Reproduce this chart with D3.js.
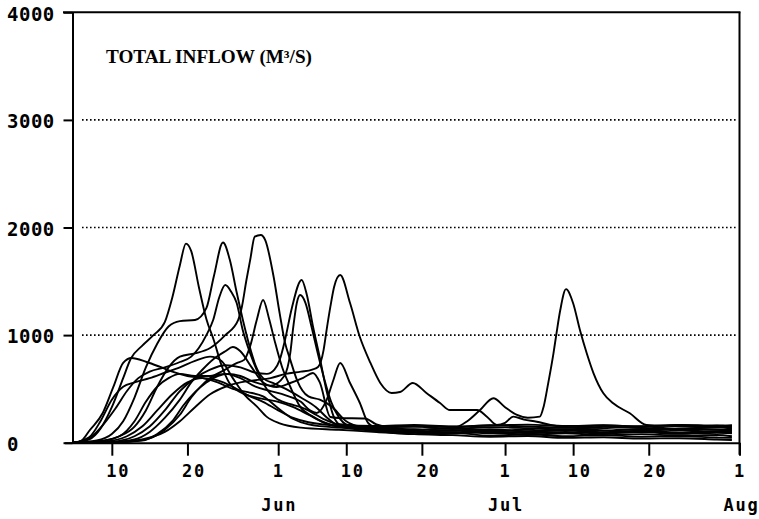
<!DOCTYPE html>
<html>
<head>
<meta charset="utf-8">
<script src="https://cdn.jsdelivr.net/npm/d3@7/dist/d3.min.js"></script>
<style>
  html, body { margin: 0; padding: 0; background: #fff; }
  svg { display: block; }
</style>
</head>
<body>
<script>
// ---- Data (day numbers counted from May 1 = day 1; values in m3/s) ----
const yTicks = [0, 1000, 2000, 3000, 4000];
const yTickLabels = ["0", "1000", "2000", "3000", "4000"];
const gridValues = [1000, 2000, 3000];
const xTickDays = [10, 20, 32, 41, 51, 62, 71, 81, 93];
const xTickLabels = ["10", "20", "1", "10", "20", "1", "10", "20", "1"];
const monthDays = [32, 62, 93];
const monthLabels = ["Jun", "Jul", "Aug"];
const chartTitle = "TOTAL INFLOW (M³/S)";

const series1 = [[5,0],[7,30],[8.5,130],[10,330],[11.5,600],[12.5,780],[14,900],[15.5,1000],[17,1120],[18,1350],[19,1650],[19.8,1850],[20.5,1780],[21.5,1450],[22.5,1150],[23.5,950],[24.5,720],[25.5,560],[27,470],[28.5,430],[30.5,400],[32,380],[34,330],[36,260],[38,190],[40,150],[45,128],[50,118],[55,135],[60,110],[65,125],[70,140],[75,115],[80,105],[85,130],[90,120],[92,112]];
const series2 = [[5,0],[8,20],[10,80],[11.5,200],[13,420],[14.5,700],[16,920],[17.5,1080],[19,1130],[21,1140],[22.5,1250],[23.5,1550],[24.7,1860],[25.6,1700],[26.5,1400],[27.3,1150],[28.2,900],[29,720],[30,600],[31.5,550],[33,500],[35,420],[37,330],[38.5,230],[40,160],[45,140],[50,150],[55,128],[60,145],[65,135],[70,120],[75,148],[80,138],[85,125],[90,150],[92,140]];
const series3 = [[5,0],[9,20],[11,60],[13,150],[14.5,300],[16,520],[17.5,700],[19,800],[21,830],[23,880],[25,1000],[26.7,1140],[27.2,1264],[27.8,1512],[28.3,1700],[28.9,1915],[29.7,1930],[30.3,1880],[31.4,1540],[32.2,1200],[32.9,930],[33.6,770],[34.5,580],[36,430],[37.5,400],[39,340],[41,200],[43,140],[45,108],[50,95],[55,112],[60,88],[65,100],[70,115],[75,92],[80,105],[85,85],[90,98],[92,90]];
const series4 = [[5,0],[10,10],[13,60],[15,150],[17,300],[19,480],[21,600],[23,680],[25,720],[27,700],[29,650],[30.5,640],[31.5,680],[32.2,770],[32.9,955],[33.8,1250],[35.1,1512],[35.8,1370],[36.6,1080],[37.5,790],[38.4,480],[39.3,250],[40.2,170],[45,150],[50,158],[55,145],[60,162],[65,150],[70,140],[75,160],[80,152],[85,165],[90,150],[92,158]];
const series5 = [[5,0],[10,0],[14,30],[17,100],[19,200],[21,330],[23,450],[25,520],[27,560],[29,580],[31,600],[33,640],[35,660],[36.5,680],[37.3,706],[38,860],[38.4,1047],[38.9,1264],[39.4,1450],[40.2,1558],[41.5,1298],[42.8,982],[44.2,741],[45.5,555],[47,462],[48.1,471],[49.8,555],[51.6,462],[53.4,369],[54.7,304],[58.3,304],[59.6,242],[60.9,165],[62,185],[63.1,242],[64.5,215],[66.2,195],[68,165],[70,145],[75,135],[80,150],[85,130],[90,142],[92,128]];
const series6 = [[5,0],[7,40],[9,180],[10.5,320],[12,480],[13.5,600],[15,660],[17,700],[19,750],[20.5,800],[21.5,880],[22.5,1000],[23.4,1140],[24.2,1350],[25,1465],[25.8,1400],[26.5,1300],[27.3,1050],[28.3,830],[29.6,610],[30.9,460],[32,400],[33.5,360],[35,330],[36.5,280],[38,220],[40,170],[45,155],[50,165],[55,150],[60,160],[65,168],[70,155],[75,162],[80,150],[85,165],[90,158],[92,162]];
const series7 = [[5,0],[8,10],[11,60],[13,200],[14.5,380],[16,520],[17.5,600],[19,640],[21,620],[23,620],[25,680],[26.5,740],[27.5,770],[28.3,900],[29.2,1150],[30,1326],[30.8,1150],[31.6,928],[32.5,706],[33.6,520],[34.9,335],[36.6,242],[38,190],[40,150],[45,110],[50,80],[55,95],[60,65],[65,78],[70,60],[75,72],[80,55],[85,62],[90,48],[92,45]];
const series8 = [[5,0],[10,5],[14,20],[16,80],[18,200],[19.5,350],[21,470],[22.5,560],[24,620],[25.5,640],[27,620],[29,560],[31,530],[32.8,620],[33.6,834],[34,1078],[34.45,1295],[34.9,1372],[35.6,1300],[36.4,1080],[37.2,840],[38.1,590],[39,380],[40,240],[41,170],[45,120],[50,100],[55,85],[60,98],[65,75],[70,88],[75,70],[80,80],[85,65],[90,72],[92,60]];
const series9 = [[5,0],[12,10],[15,40],[17,120],[19,260],[20.5,420],[22,540],[23.5,620],[25,640],[27,600],[29,520],[31,480],[33,440],[35,380],[36.2,300],[37.1,276],[38.4,397],[39.3,583],[40.2,741],[41.5,555],[42.8,369],[43.9,183],[45,140],[50,125],[55,110],[60,125],[65,105],[70,118],[75,98],[80,112],[85,95],[90,108],[92,100]];
const series10 = [[5,0],[6,20],[7.1,118],[8.8,276],[10.2,518],[11.5,741],[12.6,787],[14.6,750],[16.4,704],[18,660],[20,620],[22,600],[24,560],[26,500],[28,470],[30,430],[32,320],[34,220],[36,170],[40,140],[45,128],[50,120],[55,132],[60,118],[65,108],[70,125],[75,112],[80,128],[85,115],[90,122],[92,118]];
const series11 = [[5,0],[9,10],[12,60],[14,150],[16,300],[18,450],[20,560],[22,600],[24,580],[26,520],[28,440],[30,380],[32,300],[34,230],[36,190],[40,160],[45,152],[50,150],[55.6,149],[57,200],[58.7,304],[60.45,413],[62,330],[63.5,260],[65,232],[66.6,242],[67.1,335],[67.7,552],[68.4,831],[68.8,1017],[69.3,1233],[70.06,1427],[71,1296],[71.9,1047],[72.8,831],[73.7,645],[75,459],[76.3,366],[78.5,273],[80.7,165],[84,155],[87,150],[90,160],[92,148]];
const series12 = [[5,0],[7,50],[8.5,200],[10,400],[11.5,520],[13,560],[15,600],[17,650],[19,700],[21,760],[23,800],[24.5,760],[26,600],[27.5,450],[29.2,335],[30.5,240],[32.2,180],[35,140],[40,120],[45,100],[50,80],[55,70],[60,55],[65,62],[70,45],[75,50],[80,38],[85,42],[90,30],[92,25]];
const series13 = [[5,0],[10,5],[13,30],[15,100],[17,230],[19,400],[20.5,560],[22,680],[23.5,780],[25,850],[26,889],[27,850],[28.5,700],[30,560],[31.8,518],[33.6,555],[35.3,602],[36.6,648],[37.5,560],[38.9,239],[40,230],[43.5,225],[45,170],[50,110],[55,95],[60,105],[65,90],[70,100],[75,85],[80,98],[85,82],[90,92],[92,88]];

const allSeries = [series1, series2, series3, series4, series5, series6, series7,
                   series8, series9, series10, series11, series12, series13];

// ---- Layout ----
const W = 759, H = 519;
const mLeft = 72.5, mRight = 739.5, mTop = 12.3, mBottom = 442.7;

const svg = d3.select("body").append("svg")
  .attr("width", W).attr("height", H);

const x = d3.scaleLinear().domain([4.8, 93]).range([mLeft, mRight]);
const y = d3.scaleLinear().domain([0, 4000]).range([mBottom, mTop]);

// dotted gridlines
svg.append("g").selectAll("line").data(gridValues).join("line")
  .attr("x1", 82).attr("x2", 736)
  .attr("y1", d => y(d)).attr("y2", d => y(d))
  .attr("stroke", "#000").attr("stroke-width", 1.6)
  .attr("stroke-dasharray", "1.6,2.4");

// curves
const line = d3.line()
  .x(d => x(d[0])).y(d => y(d[1]))
  .curve(d3.curveMonotoneX);

svg.append("g").selectAll("path").data(allSeries).join("path")
  .attr("d", line)
  .attr("fill", "none")
  .attr("stroke", "#000")
  .attr("stroke-width", 1.9)
  .attr("stroke-linejoin", "round");

// y axis
const yAxis = d3.axisLeft(y).tickValues(yTicks)
  .tickFormat((d, i) => yTickLabels[i]).tickSize(9).tickSizeOuter(0);
const gy = svg.append("g").attr("transform", `translate(${mLeft},0)`).call(yAxis);
gy.select(".domain").attr("stroke-width", 2);
gy.selectAll(".tick line").attr("stroke-width", 2);
gy.selectAll(".tick text")
  .attr("x", 7 - mLeft).attr("dy", "7.8px")
  .attr("text-anchor", "start")
  .style("font-family", "'DejaVu Sans Mono', monospace")
  .style("font-weight", "bold").style("font-size", "19px")
  .style("letter-spacing", "0.5px")
  .attr("fill", "#000");

// x axis
const xAxis = d3.axisBottom(x).tickValues(xTickDays)
  .tickFormat((d, i) => xTickLabels[i]).tickSize(13).tickSizeOuter(0);
const gx = svg.append("g").attr("transform", `translate(0,${mBottom})`).call(xAxis);
gx.select(".domain").attr("stroke-width", 2).attr("d", `M${65},0.5H${mRight}`);
gx.selectAll(".tick line").attr("stroke-width", 2);
gx.selectAll(".tick text")
  .attr("y", 34.6).attr("dy", null).attr("dx", -6)
  .attr("text-anchor", "start")
  .style("font-family", "'DejaVu Sans Mono', monospace")
  .style("font-weight", "bold").style("font-size", "17px")
  .style("letter-spacing", "1.8px")
  .attr("fill", "#000");

// month labels
svg.append("g").selectAll("text").data(monthDays).join("text")
  .attr("x", (d, i) => x(d) + (i === 2 ? 2 : 1))
  .attr("y", 511)
  .attr("text-anchor", "middle")
  .style("font-family", "'DejaVu Sans Mono', monospace")
  .style("font-weight", "bold").style("font-size", "17px")
  .style("letter-spacing", "1.8px")
  .text((d, i) => monthLabels[i]);

// frame: top and right
svg.append("line").attr("x1", 63).attr("x2", mRight + 1)
  .attr("y1", mTop).attr("y2", mTop).attr("stroke", "#000").attr("stroke-width", 2);
svg.append("line").attr("x1", mRight).attr("x2", mRight)
  .attr("y1", mTop).attr("y2", mBottom + 12).attr("stroke", "#000").attr("stroke-width", 2);

// title
svg.append("text")
  .attr("x", 106).attr("y", 63.3)
  .attr("textLength", 206).attr("lengthAdjust", "spacingAndGlyphs")
  .style("font-family", "'Liberation Serif', 'Times New Roman', serif")
  .style("font-weight", "bold").style("font-size", "18px")
  .text(chartTitle);
</script>
</body>
</html>
